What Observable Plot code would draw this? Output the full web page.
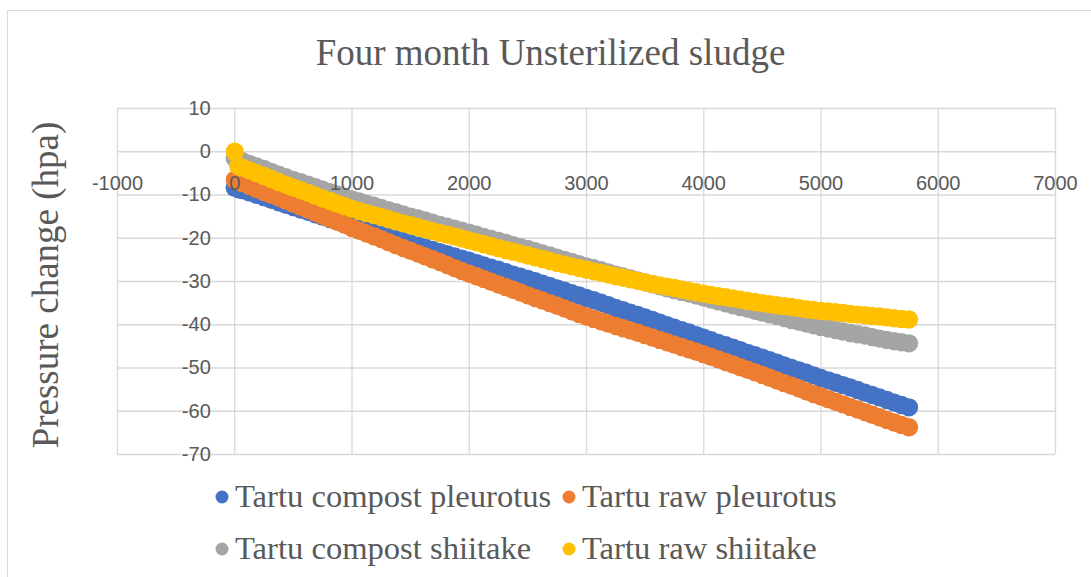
<!DOCTYPE html>
<html><head><meta charset="utf-8">
<script src="https://cdn.jsdelivr.net/npm/d3@7"></script>
<script src="https://cdn.jsdelivr.net/npm/@observablehq/plot@0.6"></script>
<style>
body{margin:0;background:#fff;}
#wrap{position:relative;width:1091px;height:577px;overflow:hidden;background:#fff;}
#frame{position:absolute;left:7px;top:10px;width:1120px;height:620px;border:1.5px solid #d9d9d9;box-sizing:border-box;}
#chart{position:absolute;left:0;top:0;}
.serif{font-family:"Liberation Serif","Times New Roman",serif;color:#595959;white-space:nowrap;position:absolute;}
#title{font-size:37px;line-height:37px;left:550.5px;top:34px;transform:translateX(-50%);}
#ylab{font-size:37px;line-height:37px;left:44.5px;top:285px;transform:translate(-50%,-50%) rotate(-90deg);}
.leg{font-size:32.6px;line-height:32px;}
.dot{position:absolute;width:13px;height:13px;border-radius:50%;transform:translate(-50%,-50%);}
</style></head><body>
<div id="wrap">
  <div id="frame"></div>
  <div id="chart"></div>
  <div id="title" class="serif"></div>
  <div id="ylab" class="serif"></div>
  <div id="legend"></div>
</div>
<script>
const titleText = "Four month Unsterilized sludge";
const yTitle = "Pressure change (hpa)";
const seriesNames = ["Tartu compost pleurotus", "Tartu raw pleurotus", "Tartu compost shiitake", "Tartu raw shiitake"];
const seriesColors = ["#4472C4", "#ED7D31", "#A5A5A5", "#FFC000"];
const xTicks = [-1000, 0, 1000, 2000, 3000, 4000, 5000, 6000, 7000];
const yTicks = [10, 0, -10, -20, -30, -40, -50, -60, -70];

const time = [0,30,62.5,125,187.5,250,312.5,375,437.5,500,562.5,625,687.5,750,812.5,875,937.5,1000,1062.5,1125,1187.5,1250,1312.5,1375,1437.5,1500,1562.5,1625,1687.5,1750,1812.5,1875,1937.5,2000,2062.5,2125,2187.5,2250,2312.5,2375,2437.5,2500,2562.5,2625,2687.5,2750,2812.5,2875,2937.5,3000,3062.5,3125,3187.5,3250,3312.5,3375,3437.5,3500,3562.5,3625,3687.5,3750,3812.5,3875,3937.5,4000,4062.5,4125,4187.5,4250,4312.5,4375,4437.5,4500,4562.5,4625,4687.5,4750,4812.5,4875,4937.5,5000,5062.5,5125,5187.5,5250,5312.5,5375,5437.5,5500,5562.5,5625,5687.5,5750];
const compostPleurotus = [-8.3,-8.6,-8.85,-9.4,-9.95,-10.5,-11.1,-11.7,-12.25,-12.8,-13.35,-13.9,-14.45,-15.0,-15.55,-16.1,-16.65,-17.2,-17.7,-18.2,-18.7,-19.2,-19.7,-20.2,-20.7,-21.2,-21.7,-22.2,-22.7,-23.2,-23.7,-24.2,-24.7,-25.2,-25.75,-26.3,-26.8,-27.3,-27.85,-28.4,-28.9,-29.4,-29.95,-30.5,-31.05,-31.6,-32.15,-32.7,-33.25,-33.8,-34.35,-34.9,-35.5,-36.1,-36.65,-37.2,-37.75,-38.3,-38.9,-39.5,-40.1,-40.7,-41.25,-41.8,-42.4,-43.0,-43.6,-44.2,-44.75,-45.3,-45.9,-46.5,-47.05,-47.6,-48.2,-48.8,-49.4,-50.0,-50.55,-51.1,-51.7,-52.3,-52.85,-53.4,-53.95,-54.5,-55.1,-55.7,-56.25,-56.8,-57.4,-58.0,-58.55,-59.1];
const rawPleurotus = [-6.5,-6.8,-7.2,-7.9,-8.6,-9.3,-9.95,-10.6,-11.3,-12.0,-12.7,-13.4,-14.1,-14.8,-15.5,-16.2,-16.9,-17.6,-18.25,-18.9,-19.55,-20.2,-20.9,-21.6,-22.25,-22.9,-23.55,-24.2,-24.85,-25.5,-26.2,-26.9,-27.55,-28.2,-28.8,-29.4,-30.05,-30.7,-31.3,-31.9,-32.55,-33.2,-33.8,-34.4,-35.0,-35.6,-36.25,-36.9,-37.5,-38.1,-38.65,-39.2,-39.75,-40.3,-40.8,-41.3,-41.85,-42.4,-42.95,-43.5,-44.05,-44.6,-45.15,-45.7,-46.25,-46.8,-47.4,-48.0,-48.6,-49.2,-49.8,-50.4,-51.0,-51.6,-52.25,-52.9,-53.5,-54.1,-54.75,-55.4,-56.0,-56.6,-57.2,-57.8,-58.4,-59.0,-59.6,-60.2,-60.8,-61.4,-62.0,-62.6,-63.15,-63.7];
const compostShiitake = [-1.5,-1.8,-2.15,-2.8,-3.4,-4.0,-4.65,-5.3,-5.9,-6.5,-7.05,-7.6,-8.2,-8.8,-9.35,-9.9,-10.45,-11.0,-11.5,-12.0,-12.5,-13.0,-13.5,-14.0,-14.5,-15.0,-15.45,-15.9,-16.4,-16.9,-17.35,-17.8,-18.25,-18.7,-19.2,-19.7,-20.15,-20.6,-21.1,-21.6,-22.05,-22.5,-23.0,-23.5,-24.0,-24.5,-25.0,-25.5,-26.0,-26.5,-26.95,-27.4,-27.9,-28.4,-28.85,-29.3,-29.75,-30.2,-30.65,-31.1,-31.55,-32.0,-32.4,-32.8,-33.25,-33.7,-34.15,-34.6,-35.05,-35.5,-35.9,-36.3,-36.75,-37.2,-37.6,-38.0,-38.45,-38.9,-39.3,-39.7,-40.1,-40.5,-40.85,-41.2,-41.55,-41.9,-42.2,-42.5,-42.85,-43.2,-43.5,-43.8,-44.05,-44.3];
const rawShiitake = [0,-3.3,-3.65,-4.3,-4.95,-5.6,-6.3,-7.0,-7.65,-8.3,-8.9,-9.5,-10.15,-10.8,-11.4,-12.0,-12.6,-13.2,-13.7,-14.2,-14.65,-15.1,-15.6,-16.1,-16.55,-17.0,-17.45,-17.9,-18.35,-18.8,-19.2,-19.6,-20.05,-20.5,-20.95,-21.4,-21.85,-22.3,-22.7,-23.1,-23.55,-24.0,-24.4,-24.8,-25.25,-25.7,-26.1,-26.5,-26.9,-27.3,-27.65,-28.0,-28.4,-28.8,-29.15,-29.5,-29.85,-30.2,-30.55,-30.9,-31.2,-31.5,-31.85,-32.2,-32.5,-32.8,-33.1,-33.4,-33.65,-33.9,-34.2,-34.5,-34.75,-35.0,-35.25,-35.5,-35.7,-35.9,-36.15,-36.4,-36.6,-36.8,-36.95,-37.1,-37.3,-37.5,-37.65,-37.8,-37.95,-38.1,-38.3,-38.5,-38.65,-38.8];

const seriesValues = [compostPleurotus, rawPleurotus, compostShiitake, rawShiitake];
const rows = seriesValues.flatMap((vals, i) =>
  vals.slice(0, time.length).map((v, j) => ({series: seriesNames[i], time: time[j], value: v})));

const grid = "#d9d9d9";
const textCol = "#595959";
const tickFont = "Liberation Sans, Arial, sans-serif";

const chart = Plot.plot({
  width: 1091, height: 577,
  marginLeft: 117, marginRight: 36, marginTop: 108, marginBottom: 123,
  style: {background: "transparent"},
  x: {domain: [-1000, 7000], axis: null},
  y: {domain: [-70, 10], axis: null},
  color: {domain: seriesNames, range: seriesColors},
  marks: [
    Plot.gridX(xTicks, {stroke: grid, strokeOpacity: 1, strokeWidth: 1.3}),
    Plot.gridY(yTicks, {stroke: grid, strokeOpacity: 1, strokeWidth: 1.3}),
    Plot.dot(rows, {x: "time", y: "value", fill: "series", r: 9.2, stroke: null}),
    Plot.text(yTicks, {x: d => 0, y: d => d, text: d => String(d), textAnchor: "end", dx: -24, fontSize: 20, fontFamily: tickFont, fill: textCol}),
    Plot.text(xTicks, {x: d => d, y: d => 0, text: d => String(d), dy: 31.5, fontSize: 20, fontFamily: tickFont, fill: textCol})
  ]
});
document.getElementById("chart").appendChild(chart);
document.getElementById("title").textContent = titleText;
document.getElementById("ylab").textContent = yTitle;

const legend = document.getElementById("legend");
const legPos = [[222, 507], [569, 507], [222, 559], [569, 559]];
seriesNames.forEach((name, i) => {
  const [lx, base] = legPos[i];
  const dot = document.createElement("div");
  dot.className = "dot";
  dot.style.left = lx + "px";
  dot.style.top = (base - 10) + "px";
  dot.style.background = seriesColors[i];
  legend.appendChild(dot);
  const t = document.createElement("div");
  t.className = "serif leg";
  t.style.left = (lx + 13) + "px";
  t.style.top = (base - 27) + "px";
  t.textContent = name;
  legend.appendChild(t);
});
</script>
</body></html>
